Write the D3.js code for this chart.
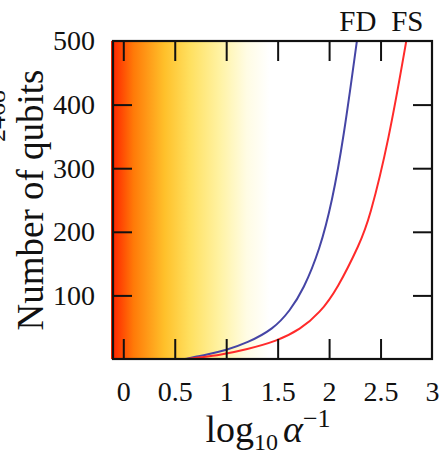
<!DOCTYPE html>
<html><head><meta charset="utf-8">
<script src="https://cdn.jsdelivr.net/npm/d3@7"></script>
<style>
html,body{margin:0;padding:0;background:#fff;}
svg{display:block;font-family:"Liberation Serif","DejaVu Serif",serif;}
</style></head>
<body>
<svg id="c" width="442" height="456"></svg>
<script>
// ---- data ----
const fdX = [0.60, 0.70, 0.81, 1.00, 1.20, 1.46, 1.62, 1.75, 1.91, 2.03, 2.14, 2.27];
const fdQ = [0, 3.5, 7, 14, 25, 47, 76, 109, 172, 248, 346, 500];
const fsX = [0.62, 0.74, 0.94, 1.20, 1.49, 1.72, 1.91, 2.08, 2.30, 2.39, 2.58, 2.75];
const fsQ = [0, 2.5, 6.3, 15.2, 28, 46.4, 72.5, 110, 182, 219, 343, 500];
const xTicks = [0, 0.5, 1, 1.5, 2, 2.5, 3];
const yTicks = [100, 200, 300, 400, 500];
const seriesNames = ["FD", "FS"];
const seriesColors = ["#4545a5", "#ff2a2a"];
const gradStops = [[-0.1, "#ff2600"], [0.1, "#ff7a08"], [0.4, "#ffc02a"], [0.65, "#ffe060"], [0.95, "#fff3a6"], [1.2, "#fffce4"], [1.42, "#ffffff"]];

const svg = d3.select("#c");
const L = 113, R = 432, T = 41, B = 359;
const x = d3.scaleLinear().domain([-0.1, 3]).range([L, R]);
const y = d3.scaleLinear().domain([0, 500]).range([B, T]);

// gradient background
const defs = svg.append("defs");
const g0 = gradStops[0][0], g1 = gradStops[gradStops.length - 1][0];
const lg = defs.append("linearGradient").attr("id", "g")
  .attr("gradientUnits", "userSpaceOnUse")
  .attr("x1", x(g0)).attr("x2", x(g1)).attr("y1", 0).attr("y2", 0);
gradStops.forEach(s => lg.append("stop")
  .attr("offset", (x(s[0]) - x(g0)) / (x(g1) - x(g0)))
  .attr("stop-color", s[1]));
defs.append("clipPath").attr("id", "clip").append("rect")
  .attr("x", L).attr("y", T).attr("width", R - L).attr("height", B - T);
svg.append("rect").attr("x", L - 2).attr("y", T).attr("width", R - L + 2).attr("height", B - T)
  .attr("fill", "url(#g)");

// curves
const line = d3.line().curve(d3.curveBasis).x(d => x(d[0])).y(d => y(d[1]));
const series = [d3.zip(fdX, fdQ), d3.zip(fsX, fsQ)];
const gc = svg.append("g").attr("clip-path", "url(#clip)");
series.forEach((s, i) => gc.append("path").datum(s).attr("d", line)
  .attr("fill", "none").attr("stroke", seriesColors[i]).attr("stroke-width", 2));

// axes with inward ticks
const fontTick = 28;
const ax = svg.append("g").attr("transform", `translate(0,${B})`)
  .call(d3.axisBottom(x).tickValues(xTicks).tickSize(-20).tickPadding(22).tickFormat(d3.format("")));
const axT = svg.append("g").attr("transform", `translate(0,${T})`)
  .call(d3.axisTop(x).tickValues(xTicks.slice(0, 6)).tickSize(-20).tickFormat(""));
const ay = svg.append("g").attr("transform", `translate(${L},0)`)
  .call(d3.axisLeft(y).tickValues(yTicks).tickSize(-19).tickPadding(18));
const ayR = svg.append("g").attr("transform", `translate(${R},0)`)
  .call(d3.axisRight(y).tickValues(yTicks.slice(0, 4)).tickSize(-19).tickFormat(""));
[ax, axT, ay, ayR].forEach(g => {
  g.select(".domain").remove();
  g.selectAll(".tick line").attr("stroke", "#111").attr("stroke-width", 2);
  g.selectAll(".tick text").attr("fill", "#111").style("font-size", fontTick + "px")
    .style("font-family", "'Liberation Serif', serif");
});
ax.selectAll(".tick").filter(d => d === 3).select("line").remove();
ay.selectAll(".tick").filter(d => d === 500).select("line").remove();

// frame
svg.append("rect").attr("x", L).attr("y", T).attr("width", R - L).attr("height", B - T)
  .attr("fill", "none").attr("stroke", "#111").attr("stroke-width", 2.2);

// series labels
svg.append("text").attr("x", x(2.27) + 1).attr("y", 31).attr("text-anchor", "middle")
  .style("font-size", "29px").attr("fill", "#111").text(seriesNames[0]);
svg.append("text").attr("x", x(2.75) + 1).attr("y", 31).attr("text-anchor", "middle")
  .style("font-size", "29px").attr("fill", "#111").text(seriesNames[1]);

// y label
svg.append("text").attr("transform", "translate(43,200) rotate(-90)")
  .attr("text-anchor", "middle").style("font-size", "37px").attr("fill", "#111")
  .text("Number of qubits");
// label of the neighbouring panel, cut by the left edge as in the reference
svg.append("text").attr("transform", "translate(5,142) rotate(-90)")
  .attr("text-anchor", "start").style("font-size", "26px").attr("fill", "#111")
  .text("2468");

// x label
const xl = svg.append("text").attr("x", 268).attr("y", 442).attr("text-anchor", "middle")
  .attr("fill", "#111").style("font-size", "38px");
xl.append("tspan").text("log");
xl.append("tspan").attr("dy", 8).style("font-size", "24px").text("10");
xl.append("tspan").attr("dy", -8).style("font-size", "20px").text(" ");
xl.append("tspan").style("font-style", "italic").text("α");
xl.append("tspan").attr("dy", -15).style("font-size", "26px").text("−1");
</script>
</body></html>
